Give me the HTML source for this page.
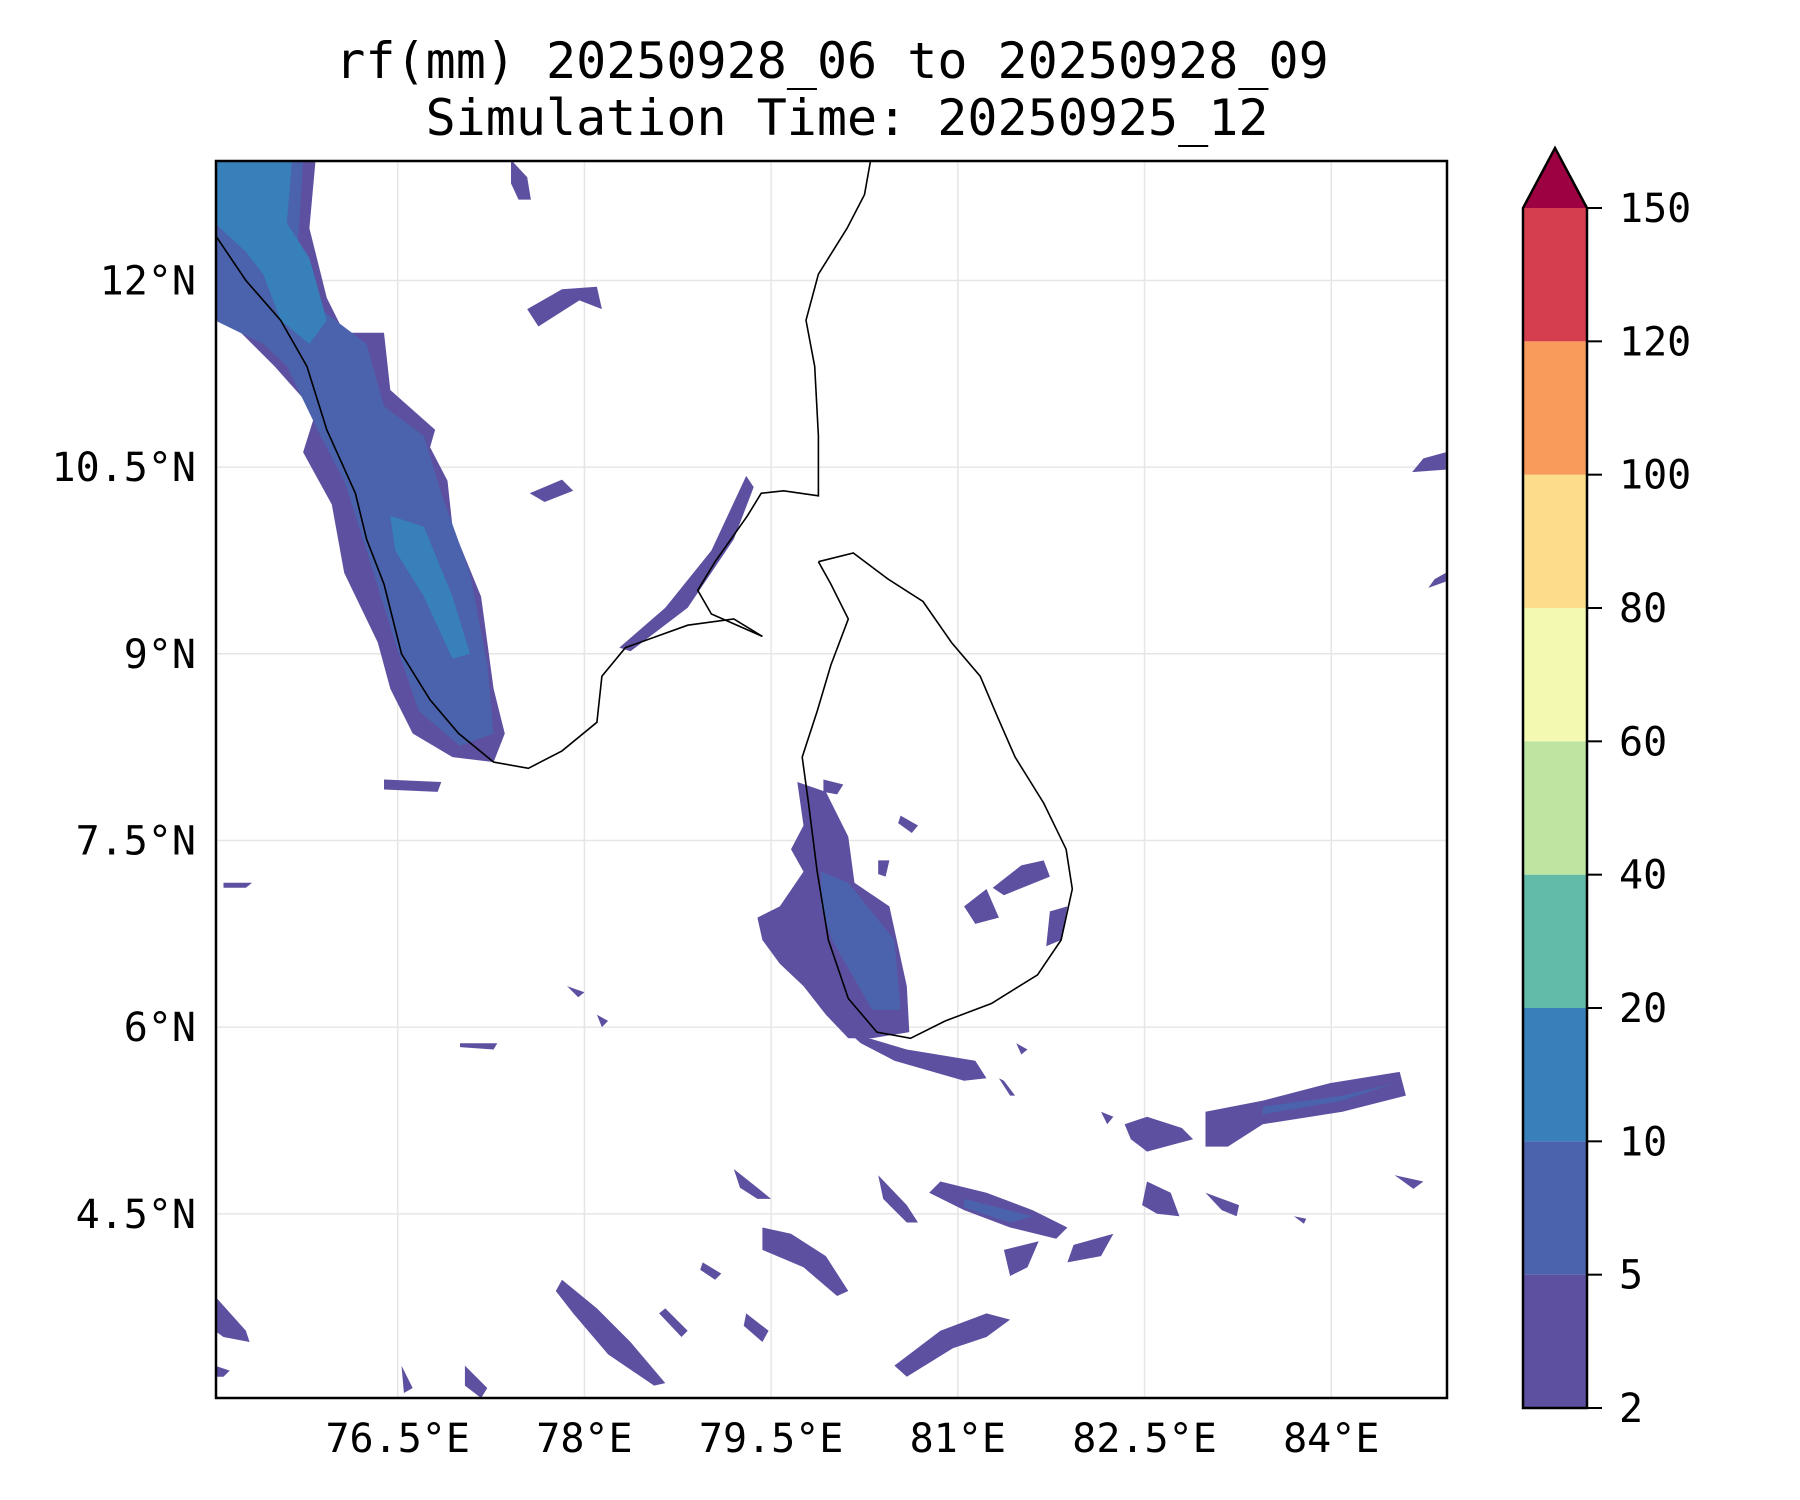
<!DOCTYPE html>
<html><head><meta charset="utf-8">
<style>
html,body{margin:0;padding:0;background:#fff;}
svg{display:block;}
text{font-family:"DejaVu Sans Mono","Liberation Mono",monospace;fill:#000;}
</style></head>
<body>
<svg id="chart" width="1800" height="1500" viewBox="0 0 1800 1500" xmlns="http://www.w3.org/2000/svg">
<text x="832" y="78" font-size="50" text-anchor="middle">rf(mm) 20250928_06 to 20250928_09</text>
<text x="847" y="135" font-size="50" text-anchor="middle">Simulation Time: 20250925_12</text>
<g id="plot"></g>
<g id="cbar"></g>
</svg>
<script>
const lonTicks=[76.5,78,79.5,81,82.5,84];
const latTicks=[4.5,6,7.5,9,10.5,12];
const levels=[2,5,10,20,40,60,80,100,120,150];
const levelColors=["#5e50a1","#4a63ac","#3880b9","#62bba9","#bde4a0","#f3f9b0","#fbdd8c","#f99b5b","#d53e4f"];
const overColor="#9e0142";
const extent=[75.04,84.93,3.02,12.96];

const rainL1=[
[[75.03,12.97],[75.84,12.97],[75.79,12.42],[75.93,11.86],[76.07,11.58],[76.39,11.58],[76.44,11.12],[76.80,10.80],[76.76,10.66],[76.90,10.39],[76.94,10.02],[77.17,9.46],[77.27,8.72],[77.36,8.36],[77.27,8.13],[76.94,8.17],[76.62,8.36],[76.44,8.72],[76.34,9.09],[76.07,9.65],[75.97,10.20],[75.74,10.62],[75.84,10.94],[75.51,11.31],[75.24,11.58],[75.03,11.77]],
[[79.71,7.97],[79.94,7.89],[80.12,7.53],[80.17,7.16],[80.45,6.97],[80.59,6.33],[80.61,5.96],[80.31,5.91],[80.12,5.91],[79.94,6.10],[79.76,6.33],[79.57,6.51],[79.43,6.70],[79.39,6.88],[79.57,6.97],[79.76,7.25],[79.66,7.43],[79.76,7.62]],
[[80.12,5.96],[80.59,5.82],[81.14,5.73],[81.23,5.59],[81.05,5.57],[80.49,5.73],[80.22,5.87]],
[[78.28,9.05],[78.65,9.37],[79.02,9.83],[79.30,10.43],[79.36,10.34],[79.20,9.92],[78.83,9.37],[78.37,9.02]],
[[81.05,6.97],[81.23,7.11],[81.33,6.88],[81.14,6.83]],
[[81.28,7.12],[81.51,7.30],[81.69,7.34],[81.74,7.21],[81.37,7.06]],
[[81.74,6.93],[81.88,6.97],[81.83,6.70],[81.71,6.65]],
[[82.99,5.32],[83.45,5.41],[83.99,5.55],[84.55,5.64],[84.60,5.45],[84.09,5.32],[83.45,5.22],[83.17,5.04],[82.99,5.04]],
[[82.34,5.22],[82.52,5.28],[82.80,5.19],[82.89,5.10],[82.52,5.00],[82.39,5.10]],
[[80.86,4.76],[81.23,4.67],[81.60,4.53],[81.88,4.39],[81.79,4.30],[81.42,4.39],[81.05,4.53],[80.77,4.67]],
[[81.93,4.25],[82.25,4.34],[82.15,4.16],[81.88,4.11]],
[[79.43,4.39],[79.66,4.34],[79.94,4.16],[80.12,3.88],[80.03,3.84],[79.76,4.07],[79.43,4.21]],
[[77.82,3.97],[78.10,3.74],[78.37,3.47],[78.65,3.14],[78.56,3.12],[78.19,3.37],[77.91,3.70],[77.77,3.88]],
[[80.49,3.28],[80.86,3.56],[81.23,3.70],[81.42,3.65],[81.23,3.51],[80.96,3.42],[80.59,3.19]],
[[79.20,4.86],[79.39,4.71],[79.50,4.62],[79.39,4.62],[79.25,4.71]],
[[80.36,4.81],[80.59,4.57],[80.68,4.43],[80.59,4.43],[80.40,4.62]],
[[75.03,3.84],[75.28,3.56],[75.31,3.47],[75.10,3.51],[75.03,3.56]],
[[77.04,3.28],[77.22,3.10],[77.17,3.02],[77.04,3.12]],
[[84.74,10.57],[84.92,10.62],[84.92,10.48],[84.65,10.46]],
[[77.54,11.77],[77.82,11.93],[78.10,11.95],[78.14,11.77],[77.96,11.84],[77.63,11.63]],
[[77.41,12.97],[77.54,12.83],[77.57,12.65],[77.47,12.65],[77.41,12.78]],
[[77.56,10.29],[77.82,10.40],[77.91,10.31],[77.68,10.22]],
[[76.39,7.99],[76.85,7.97],[76.82,7.89],[76.39,7.91]],
[[75.10,7.16],[75.33,7.16],[75.28,7.12],[75.10,7.12]],
[[84.83,9.60],[84.92,9.65],[84.92,9.58],[84.78,9.53]],
[[82.52,4.76],[82.71,4.67],[82.78,4.48],[82.60,4.50],[82.48,4.57]],
[[82.99,4.67],[83.26,4.57],[83.24,4.48],[83.12,4.53]],
[[84.51,4.81],[84.74,4.76],[84.66,4.70]],
[[81.37,4.21],[81.65,4.28],[81.56,4.07],[81.42,4.00]],
[[76.53,3.28],[76.62,3.10],[76.55,3.06]],
[[79.92,7.99],[80.08,7.95],[80.03,7.87],[79.92,7.89]],
[[80.54,7.70],[80.68,7.62],[80.63,7.56],[80.52,7.64]],
[[80.36,7.34],[80.45,7.34],[80.42,7.21],[80.36,7.23]],
[[81.33,5.59],[81.42,5.45],[81.46,5.45],[81.37,5.57]],
[[81.47,5.87],[81.56,5.82],[81.51,5.78]],
[[82.15,5.32],[82.25,5.28],[82.20,5.22]],
[[83.70,4.48],[83.80,4.46],[83.78,4.42]],
[[78.65,3.74],[78.83,3.56],[78.78,3.51],[78.60,3.70]],
[[78.95,4.11],[79.10,4.02],[79.05,3.97],[78.93,4.05]],
[[79.30,3.70],[79.48,3.56],[79.43,3.47],[79.28,3.60]],
[[75.03,3.28],[75.15,3.24],[75.10,3.19],[75.03,3.19]],
[[77.86,6.33],[78.00,6.28],[77.95,6.24]],
[[78.10,6.10],[78.19,6.05],[78.14,6.00]],
[[77.00,5.87],[77.30,5.87],[77.27,5.82],[77.00,5.84]]
];
const rainL2=[
[[75.03,12.97],[75.74,12.97],[75.70,12.32],[75.88,11.77],[76.25,11.49],[76.39,10.99],[76.71,10.75],[76.85,10.29],[77.08,9.65],[77.22,8.91],[77.27,8.36],[77.00,8.26],[76.67,8.54],[76.48,9.09],[76.25,9.83],[76.07,10.39],[75.88,10.75],[75.61,11.31],[75.42,11.49],[75.03,11.68]],
[[79.90,7.25],[80.12,7.16],[80.49,6.70],[80.54,6.14],[80.31,6.14],[79.99,6.70],[79.90,6.97]],
[[83.45,5.36],[84.09,5.45],[84.51,5.55],[84.09,5.41],[83.45,5.30]],
[[81.05,4.62],[81.60,4.48],[81.42,4.43],[81.05,4.55]]
];
const rainL3=[
[[75.03,12.97],[75.65,12.97],[75.61,12.46],[75.79,12.18],[75.93,11.68],[75.79,11.49],[75.56,11.68],[75.42,12.05],[75.28,12.23],[75.03,12.46]],
[[76.44,10.11],[76.71,10.02],[76.94,9.46],[77.08,9.00],[76.94,8.96],[76.71,9.46],[76.48,9.83]]
];
const coastIndia=[[75.03,12.37],[75.28,12.0],[75.56,11.68],[75.77,11.31],[75.93,10.80],[76.16,10.29],[76.25,9.92],[76.39,9.56],[76.53,9.0],[76.76,8.63],[76.99,8.36],[77.27,8.13],[77.55,8.08],[77.82,8.22],[78.10,8.45],[78.14,8.82],[78.33,9.05],[78.83,9.23],[79.20,9.28],[79.43,9.14]];
const coastIndiaEast=[[79.43,9.14],[79.02,9.32],[78.91,9.51],[79.05,9.74],[79.31,10.11],[79.42,10.29],[79.60,10.31],[79.88,10.27],[79.88,10.75],[79.85,11.31],[79.78,11.68],[79.88,12.05],[80.11,12.42],[80.25,12.69],[80.30,12.97]];
const coastSriLanka=[[79.88,9.74],[80.16,9.81],[80.44,9.60],[80.72,9.42],[80.95,9.09],[81.18,8.82],[81.32,8.49],[81.46,8.17],[81.69,7.80],[81.87,7.43],[81.92,7.11],[81.83,6.70],[81.64,6.42],[81.27,6.19],[80.90,6.05],[80.62,5.91],[80.35,5.96],[80.12,6.23],[79.96,6.70],[79.87,7.25],[79.80,7.80],[79.75,8.17],[79.87,8.54],[79.98,8.91],[80.12,9.28],[79.98,9.56],[79.88,9.74]];

const NS="http://www.w3.org/2000/svg";
const AX={l:216,r:1447,t:161,b:1398};
function xs(lon){return AX.l+(lon-extent[0])/(extent[1]-extent[0])*(AX.r-AX.l);}
function ys(lat){return AX.b-(lat-extent[2])/(extent[3]-extent[2])*(AX.b-AX.t);}
function mk(tag,attrs,parent){const e=document.createElementNS(NS,tag);for(const k in attrs)e.setAttribute(k,attrs[k]);parent.appendChild(e);return e;}
function pts(poly){return poly.map(p=>xs(p[0]).toFixed(1)+","+ys(p[1]).toFixed(1)).join(" ");}
const plot=document.getElementById('plot');
const clip=mk('clipPath',{id:'axclip'},plot);
mk('rect',{x:AX.l,y:AX.t,width:AX.r-AX.l,height:AX.b-AX.t},clip);
const inner=mk('g',{'clip-path':'url(#axclip)'},plot);
lonTicks.forEach(v=>{const l=mk('line',{x1:xs(v),x2:xs(v),y1:AX.t,y2:AX.b,stroke:'#e6e6e6','stroke-width':1.5},inner);

});
latTicks.forEach(v=>{const l=mk('line',{x1:AX.l,x2:AX.r,y1:ys(v),y2:ys(v),stroke:'#e6e6e6','stroke-width':1.5},inner);

});
[[rainL1,0],[rainL2,1],[rainL3,2]].forEach(([set,li])=>{set.forEach(poly=>{const p=mk('polygon',{points:pts(poly),fill:levelColors[li]},inner);

});});
[coastIndia,coastIndiaEast,coastSriLanka].forEach((c,i)=>{const p=mk('polyline',{points:pts(c),fill:'none',stroke:'#000','stroke-width':1.6},inner);

});
const frame=mk('rect',{x:AX.l,y:AX.t,width:AX.r-AX.l,height:AX.b-AX.t,fill:'none',stroke:'#000','stroke-width':2.5},plot);


lonTicks.forEach(v=>{const t=mk('text',{x:xs(v),y:1452,'font-size':40,'text-anchor':'middle'},plot);t.textContent=v+"°E";

});
latTicks.forEach(v=>{const t=mk('text',{x:196,y:ys(v)+14,'font-size':40,'text-anchor':'end'},plot);t.textContent=v+"°N";

});
const cb=document.getElementById('cbar');
const CB={l:1523,r:1587,t:208,b:1408,tip:148};
const n=levels.length-1;
function cy(i){return CB.b-i*(CB.b-CB.t)/n;}
for(let i=0;i<n;i++){const r=mk('rect',{x:CB.l,y:cy(i+1),width:CB.r-CB.l,height:cy(i)-cy(i+1),fill:levelColors[i]},cb);

}
const tri=mk('polygon',{points:`${CB.l},${CB.t} ${(CB.l+CB.r)/2},${CB.tip} ${CB.r},${CB.t}`,fill:overColor},cb);


const out=mk('polygon',{points:`${CB.l},${CB.b} ${CB.l},${CB.t} ${(CB.l+CB.r)/2},${CB.tip} ${CB.r},${CB.t} ${CB.r},${CB.b}`,fill:'none',stroke:'#000','stroke-width':2.5},cb);


levels.forEach((v,i)=>{const y=cy(i);mk('line',{x1:CB.r,x2:CB.r+15,y1:y,y2:y,stroke:'#000','stroke-width':2},cb);
const t=mk('text',{x:CB.r+32,y:y+14,'font-size':40},cb);t.textContent=v;

});
</script>
</body></html>
